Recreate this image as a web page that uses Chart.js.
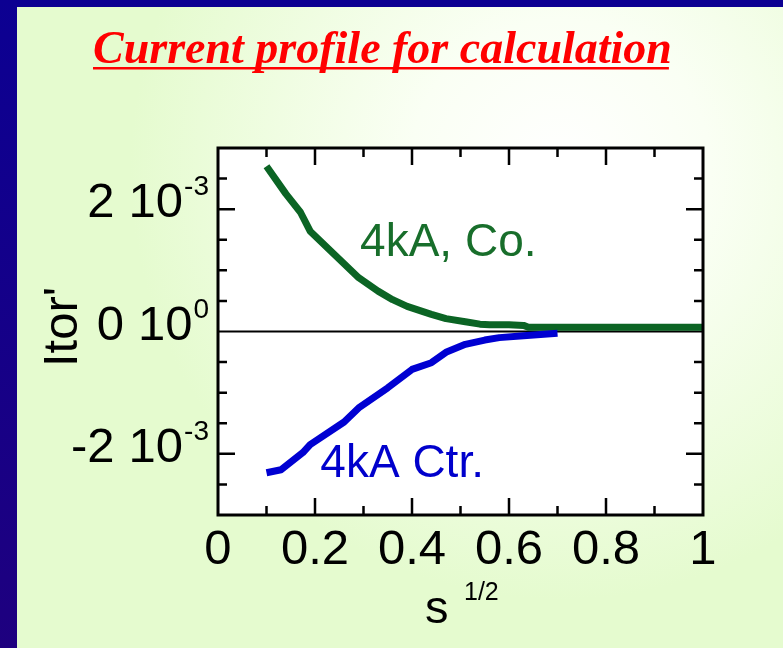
<!DOCTYPE html>
<html>
<head>
<meta charset="utf-8">
<script src="https://cdn.jsdelivr.net/npm/chart.js@4/dist/chart.umd.min.js"></script>
<style>
  html, body { margin: 0; padding: 0; background: #e6fcd2; }
  #wrap { width: 783px; height: 648px; }
</style>
</head>
<body>
<div id="wrap"><canvas id="profileChart" width="783" height="648"></canvas></div>
<script>
// co-current 4kA profile (s^1/2, Itor')
const coS = [0.10, 0.14, 0.17, 0.19, 0.24, 0.29, 0.33, 0.36, 0.39, 0.44, 0.47, 0.51, 0.54, 0.56, 0.60, 0.63, 0.64, 0.70, 0.80, 0.90, 1.00];
const coI = [2.70e-3, 2.25e-3, 1.95e-3, 1.64e-3, 1.26e-3, 0.88e-3, 0.66e-3, 0.52e-3, 0.41e-3, 0.28e-3, 0.21e-3, 0.16e-3, 0.12e-3, 0.11e-3, 0.11e-3, 0.10e-3, 0.07e-3, 0.07e-3, 0.07e-3, 0.07e-3, 0.07e-3];

// counter 4kA profile
const ctrS = [0.10, 0.13, 0.175, 0.19, 0.26, 0.29, 0.35, 0.40, 0.44, 0.47, 0.51, 0.55, 0.58, 0.63, 0.70];
const ctrI = [-2.31e-3, -2.26e-3, -1.98e-3, -1.85e-3, -1.48e-3, -1.25e-3, -0.92e-3, -0.62e-3, -0.51e-3, -0.34e-3, -0.21e-3, -0.14e-3, -0.10e-3, -0.07e-3, -0.03e-3];

const xLabelValues = [0, 0.2, 0.4, 0.6, 0.8, 1];
const xTickLabels = ['0', '0.2', '0.4', '0.6', '0.8', '1'];
const yLabelValues = [2e-3, 0, -2e-3];
const yTickMantissa = ['2', '0', '-2'];
const yTickExponent = ['-3', '0', '-3'];

const titleText = 'Current profile for calculation';
const coLabel = '4kA, Co.';
const ctrLabel = '4kA Ctr.';

const SANS = '"Liberation Sans", Arial, sans-serif';

function toPoints(xs, ys) {
    return xs.map((x, i) => ({ x: x, y: ys[i] }));
}

const decorPlugin = {
    id: 'decor',
    beforeDraw(chart) {
        const ctx = chart.ctx;
        const w = chart.width, h = chart.height;
        ctx.save();
        // page background with soft glow
        const g = ctx.createRadialGradient(560, 170, 0, 560, 170, 430);
        g.addColorStop(0, '#ffffff');
        g.addColorStop(0.35, '#fafff4');
        g.addColorStop(1, '#e5fbcf');
        ctx.fillStyle = g;
        ctx.fillRect(0, 0, w, h);
        // navy frame (left + top)
        const nav = ctx.createLinearGradient(0, 0, 0, h);
        nav.addColorStop(0, '#0c0092');
        nav.addColorStop(1, '#1e007f');
        ctx.fillStyle = nav;
        ctx.fillRect(0, 0, 17, h);
        ctx.fillRect(0, 0, w, 7);
        // plot area
        const a = chart.chartArea;
        ctx.fillStyle = '#ffffff';
        ctx.fillRect(a.left, a.top, a.right - a.left, a.bottom - a.top);

        // title
        ctx.font = 'italic bold 46px "Liberation Serif", "Times New Roman", serif';
        ctx.fillStyle = '#ff0000';
        ctx.textAlign = 'left';
        ctx.textBaseline = 'alphabetic';
        ctx.fillText(titleText, 93, 63);
        const tw = ctx.measureText(titleText).width;
        ctx.fillRect(93, 67, tw - 3, 2.5);
        ctx.restore();
    },
    beforeDatasetsDraw(chart) {
        const ctx = chart.ctx;
        const a = chart.chartArea;
        const y0 = chart.scales.y.getPixelForValue(0);
        ctx.save();
        ctx.strokeStyle = '#000';
        ctx.lineWidth = 2;
        ctx.beginPath();
        ctx.moveTo(a.left, y0);
        ctx.lineTo(a.right, y0);
        ctx.stroke();
        ctx.restore();
    },
    afterDraw(chart) {
        const ctx = chart.ctx;
        const a = chart.chartArea;
        const xs = chart.scales.x, ys = chart.scales.y;
        ctx.save();
        ctx.strokeStyle = '#000';
        // ticks pointing inward on all four sides
        ctx.lineWidth = 2.5;
        ctx.beginPath();
        xs.ticks.forEach(t => {
            const k = Math.round(t.value * 10);
            if (k <= 0 || k >= 10) return;
            const len = (k % 2 === 0) ? 17 : 9;
            const px = xs.getPixelForValue(t.value);
            ctx.moveTo(px, a.bottom); ctx.lineTo(px, a.bottom - len);
            ctx.moveTo(px, a.top); ctx.lineTo(px, a.top + len);
        });
        ys.ticks.forEach(t => {
            const k = Math.round(t.value / 0.5e-3);
            if (k <= -6 || k >= 6 || k === 0) return;
            const len = (k % 4 === 0) ? 17 : 9;
            const py = ys.getPixelForValue(t.value);
            ctx.moveTo(a.left, py); ctx.lineTo(a.left + len, py);
            ctx.moveTo(a.right, py); ctx.lineTo(a.right - len, py);
        });
        ctx.stroke();
        // frame
        ctx.lineWidth = 3;
        ctx.strokeRect(a.left, a.top, a.right - a.left, a.bottom - a.top);

        // x tick labels
        ctx.fillStyle = '#000';
        ctx.font = '49px ' + SANS;
        ctx.textAlign = 'center';
        ctx.textBaseline = 'alphabetic';
        xLabelValues.forEach((v, i) => {
            ctx.fillText(xTickLabels[i], xs.getPixelForValue(v), a.bottom + 49);
        });

        // y tick labels: "m 10^e"
        yLabelValues.forEach((v, i) => {
            const base = ys.getPixelForValue(v) + 8;
            ctx.textAlign = 'right';
            ctx.font = '28px ' + SANS;
            ctx.fillText(yTickExponent[i], 209, base - 22);
            const supLeft = 209 - ctx.measureText(yTickExponent[i]).width;
            ctx.font = '49px ' + SANS;
            const tenRight = supLeft - 1;
            ctx.fillText('10', tenRight, base);
            const tenLeft = tenRight - ctx.measureText('10').width;
            ctx.fillText(yTickMantissa[i], tenLeft - 14, base);
        });

        // axis titles
        ctx.textAlign = 'left';
        ctx.font = '47px ' + SANS;
        ctx.fillText('s', 425, 623);
        ctx.font = '25px ' + SANS;
        ctx.fillText('1/2', 464, 600);

        ctx.save();
        ctx.translate(77, 327);
        ctx.rotate(-Math.PI / 2);
        ctx.textAlign = 'center';
        ctx.font = '49px ' + SANS;
        ctx.fillText("Itor'", 0, 0);
        ctx.restore();

        // curve labels
        ctx.textAlign = 'left';
        ctx.font = '46px ' + SANS;
        ctx.fillStyle = '#186e2b';
        ctx.fillText(coLabel, xs.getPixelForValue(0.293), ys.getPixelForValue(1.23e-3));
        ctx.fillStyle = '#0000cc';
        ctx.fillText(ctrLabel, xs.getPixelForValue(0.211), ys.getPixelForValue(-2.38e-3));
        ctx.restore();
    }
};

const chart = new Chart(document.getElementById('profileChart').getContext('2d'), {
    type: 'scatter',
    data: {
        datasets: [
            {
                label: ctrLabel,
                data: toPoints(ctrS, ctrI),
                showLine: true,
                borderColor: '#0000d2',
                borderWidth: 7,
                borderJoinStyle: 'round',
                pointRadius: 0,
                tension: 0
            },
            {
                label: coLabel,
                data: toPoints(coS, coI),
                showLine: true,
                borderColor: '#0b6424',
                borderWidth: 7,
                borderJoinStyle: 'round',
                pointRadius: 0,
                tension: 0
            }
        ]
    },
    options: {
        responsive: false,
        animation: false,
        layout: { padding: { left: 218, right: 80, top: 148, bottom: 133 } },
        plugins: {
            legend: { display: false },
            title: { display: false },
            tooltip: { enabled: false }
        },
        scales: {
            x: {
                type: 'linear', min: 0, max: 1, display: false,
                ticks: { stepSize: 0.1 }
            },
            y: {
                type: 'linear', min: -3e-3, max: 3e-3, display: false,
                ticks: { stepSize: 0.5e-3 }
            }
        }
    },
    plugins: [decorPlugin]
});
</script>
</body>
</html>
